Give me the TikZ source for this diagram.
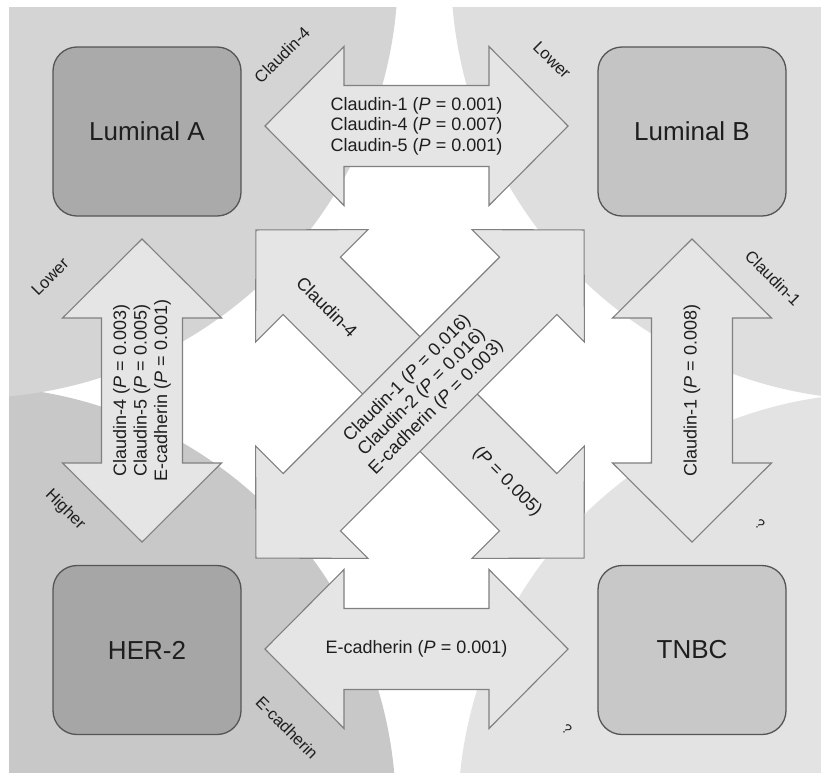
\documentclass[tikz,border=0pt]{standalone}
\usepackage{fontspec}
\setmainfont{Liberation Sans}
\definecolor{bgTL}{RGB}{212,212,212}
\definecolor{bgTR}{RGB}{222,222,222}
\definecolor{bgBL}{RGB}{200,200,200}
\definecolor{bgBR}{RGB}{227,227,227}
\definecolor{arrfill}{RGB}{229,229,229}
\definecolor{arrline}{RGB}{128,128,128}
\definecolor{boxline}{RGB}{85,85,85}
\definecolor{fillA}{RGB}{170,170,170}
\definecolor{fillB}{RGB}{196,196,196}
\definecolor{fillH}{RGB}{166,166,166}
\definecolor{fillT}{RGB}{200,200,200}
\definecolor{ink}{RGB}{30,30,30}
\tikzset{
  arrlen/.store in=\arrlen, arrlen=303,
  arrowbody/.style={fill=arrfill, draw=arrline, line width=1.1pt, line join=miter},
  blockarr/.pic={
    \pgfmathsetmacro\ha{\arrlen/2}
    \pgfmathsetmacro\hb{\arrlen/2-79}
    \draw[arrowbody] (-\ha,0) -- (-\hb,79.5) -- (-\hb,40.5) -- (\hb,40.5) -- (\hb,79.5) -- (\ha,0)
      -- (\hb,-79.5) -- (\hb,-40.5) -- (-\hb,-40.5) -- (-\hb,-79.5) -- cycle;
  },
  subtype/.style={draw=boxline, line width=1.3pt, rounded corners=24pt,
    minimum width=188pt, minimum height=169pt, text=ink,
    font=\fontsize{26}{30}\selectfont, inner sep=0pt},
  arrtext/.style={text=ink, font=\fontsize{18}{20.5}\selectfont, align=center, inner sep=0pt},
  sidelabel/.style={text=ink, font=\fontsize{16.5}{18}\selectfont, inner sep=0pt},
  qmark/.style={text=ink, font=\fontsize{14}{16}\selectfont, inner sep=0pt, rotate=-40},
}
\begin{document}
\begin{tikzpicture}[x=1pt, y=-1pt]
\useasboundingbox (0,0) rectangle (821,772);
\fill[white] (0,0) rectangle (821,772);
% background discs
\begin{scope}
  \clip (9,7) rectangle (821,772);
  \fill[bgBL] (-30,812) circle [radius=426];
  \fill[bgBR] (881,816) circle [radius=423];
  \fill[bgTR] (881,-30) circle [radius=430];
  \fill[bgTL] (-30,-30) circle [radius=428];
\end{scope}
% subtype boxes
\node[subtype, fill=fillA] (lumA) at (147,131.5) {Luminal A};
\node[subtype, fill=fillB] (lumB) at (692,131.5) {Luminal B};
\node[subtype, fill=fillH] (her2) at (147,650) {HER-2};
\node[subtype, fill=fillT] (tnbc) at (692,650) {TNBC};
% block arrows
\coordinate (ctop) at (416.5,126);
\coordinate (cbot) at (416.5,649);
\coordinate (cleft) at (142,390.5);
\coordinate (cright) at (692,390.5);
\coordinate (cmid) at (420,394);
\pic[arrlen=303] at (ctop) {blockarr};
\pic[arrlen=303] at (cbot) {blockarr};
\pic[arrlen=303, rotate=90] at (cleft) {blockarr};
\pic[arrlen=303, rotate=90] at (cright) {blockarr};
\pic[arrlen=464, rotate=-45] at (cmid) {blockarr};
\pic[arrlen=464, rotate=45] at (cmid) {blockarr};
% arrow texts
\node[arrtext] (ttop) at (ctop) {Claudin-1 (\textit{P} = 0.001)\\Claudin-4 (\textit{P} = 0.007)\\Claudin-5 (\textit{P} = 0.001)};
\node[arrtext] (tbot) at (cbot) {E-cadherin (\textit{P} = 0.001)};
\node[arrtext, rotate=90] (tleft) at (cleft) {Claudin-4 (\textit{P} = 0.003)\\Claudin-5 (\textit{P} = 0.005)\\E-cadherin (\textit{P} = 0.001)};
\node[arrtext, rotate=90] (tright) at (cright) {Claudin-1 (\textit{P} = 0.008)};
\node[arrtext, rotate=45] (tdiag) at (422,393) {Claudin-1 (\textit{P} = 0.016)\\Claudin-2 (\textit{P} = 0.016)\\E-cadherin (\textit{P} = 0.003)};
\node[arrtext, rotate=-45] (tnw) at (327,307) {Claudin-4};
\node[arrtext, rotate=-45] (tse) at (507,482) {(\textit{P} = 0.005)};
% side labels
\node[sidelabel, rotate=45] (l1) at (282,55) {Claudin-4};
\node[sidelabel, rotate=-45] (l2) at (552,60) {Lower};
\node[sidelabel, rotate=45] (l3) at (50,277) {Lower};
\node[sidelabel, rotate=-45] (l4) at (773,278) {Claudin-1};
\node[sidelabel, rotate=-45] (l5) at (65,510) {Higher};
\node[sidelabel, rotate=-45] (l6) at (287,728) {E-cadherin};
\node[qmark] (q1) at (760,524) {?};
\node[qmark] (q2) at (567,729) {?};
\end{tikzpicture}
\end{document}
